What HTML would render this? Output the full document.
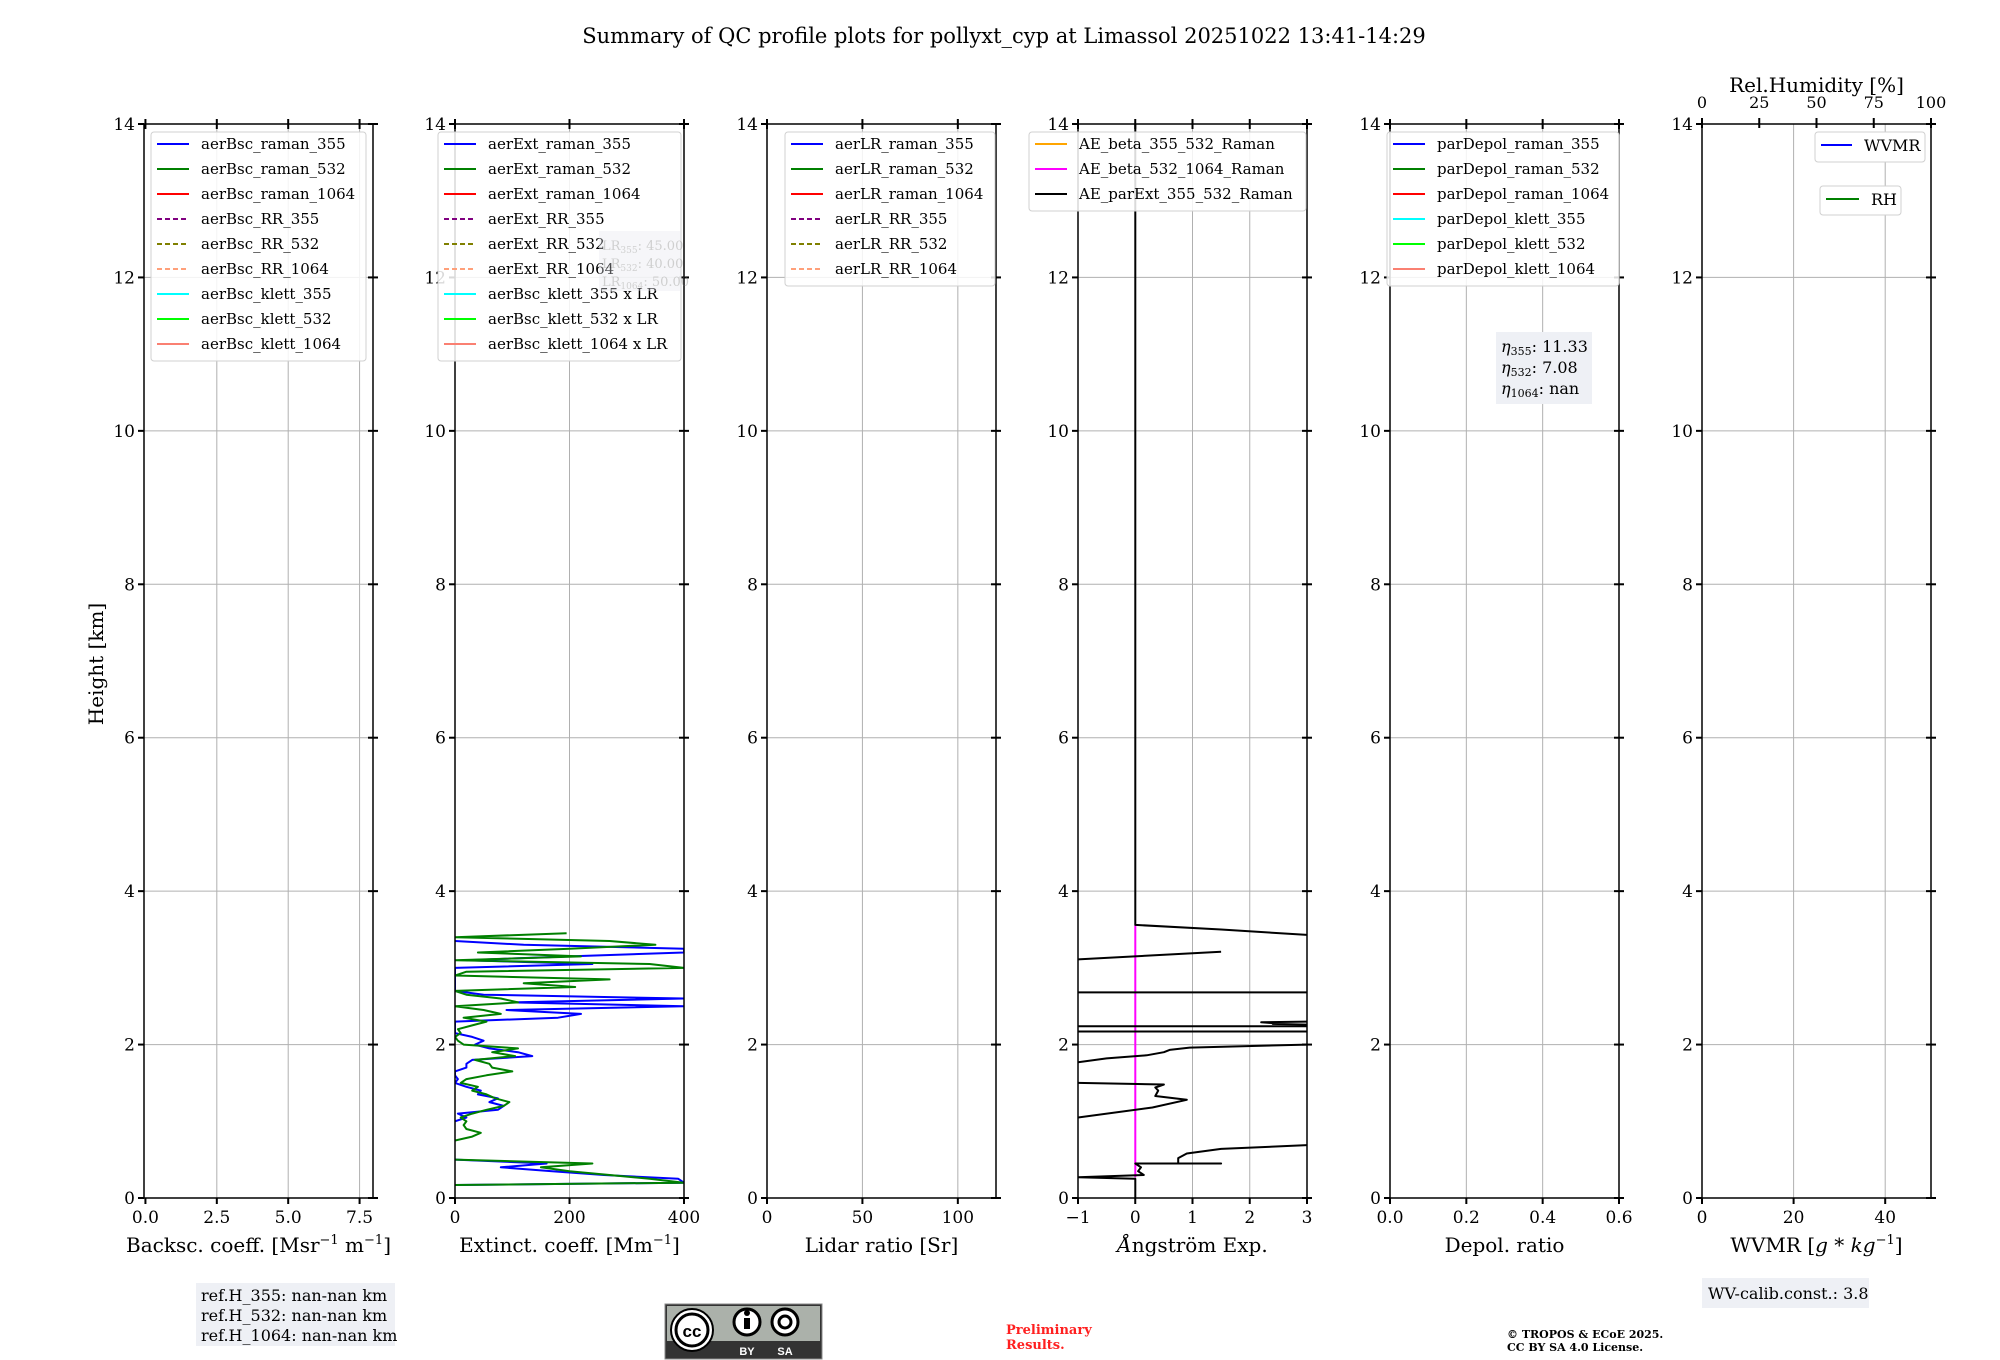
<!DOCTYPE html>
<html><head><meta charset="utf-8">
<style>
html,body{margin:0;padding:0;background:#fff;}
svg{display:block;font-family:"DejaVu Serif","Liberation Serif",serif;}
</style></head>
<body>
<svg id="fig" width="2000" height="1360" viewBox="0 0 2000 1360" xmlns="http://www.w3.org/2000/svg">
<text x="1004" y="43" font-size="21" text-anchor="middle">Summary of QC profile plots for pollyxt_cyp at Limassol 20251022 13:41-14:29</text>
<text transform="translate(103,664) rotate(-90)" font-size="20" text-anchor="middle">Height [km]</text>
<g id="panels"></g>
<g>
<rect x="196" y="1283" width="199" height="63" fill="#eef0f5"/>
<text x="201" y="1301" font-size="16">ref.H_355: nan-nan km</text>
<text x="201" y="1321" font-size="16">ref.H_532: nan-nan km</text>
<text x="201" y="1341" font-size="16">ref.H_1064: nan-nan km</text>
</g>
<g>
<rect x="665" y="1304" width="157" height="55" fill="#333" stroke="#888"/>
<rect x="667" y="1306" width="153" height="35" fill="#abb1aa"/>
<circle cx="692" cy="1330" r="21" fill="#fff" stroke="#000" stroke-width="2"/>
<circle cx="692" cy="1330" r="16" fill="#fff" stroke="#000" stroke-width="3"/>
<text x="692" y="1337" font-size="17" font-weight="bold" text-anchor="middle" font-family="Liberation Sans, sans-serif">cc</text>
<circle cx="747" cy="1322" r="13" fill="#fff" stroke="#000" stroke-width="3"/>
<rect x="744" y="1318" width="6" height="11" fill="#000"/><circle cx="747" cy="1313" r="3" fill="#000"/>
<circle cx="785" cy="1322" r="13" fill="#fff" stroke="#000" stroke-width="3"/>
<circle cx="785" cy="1322" r="6" fill="none" stroke="#000" stroke-width="3"/>
<text x="747" y="1355" font-size="11" fill="#fff" text-anchor="middle" font-family="Liberation Sans, sans-serif" font-weight="bold">BY</text>
<text x="785" y="1355" font-size="11" fill="#fff" text-anchor="middle" font-family="Liberation Sans, sans-serif" font-weight="bold">SA</text>
</g>
<text x="1006" y="1334" font-size="13" font-weight="bold" fill="#ff2020">Preliminary</text>
<text x="1006" y="1349" font-size="13" font-weight="bold" fill="#ff2020">Results.</text>
<text x="1507" y="1338" font-size="11" font-weight="bold">© TROPOS &amp; ECoE 2025.</text>
<text x="1507" y="1351" font-size="11" font-weight="bold">CC BY SA 4.0 License.</text>
<g>
<rect x="1702" y="1278" width="167" height="30" fill="#eef0f5"/>
<text x="1708" y="1299" font-size="16">WV-calib.const.: 3.8</text>
</g>
</svg>
<script>
// ---- data ----
const extHeights = [0.17,0.2,0.25,0.3,0.35,0.4,0.45,0.5,null,0.75,0.8,0.85,0.9,0.95,1.0,1.05,1.1,1.15,1.2,1.25,1.3,1.35,1.4,1.45,1.5,1.55,1.6,1.65,1.7,1.75,1.8,1.85,1.9,1.95,2.0,2.05,2.1,2.15,2.2,2.25,2.3,2.35,2.4,2.45,2.5,2.55,2.6,2.65,2.7,2.75,2.8,2.85,2.9,2.95,3.0,3.05,3.1,3.15,3.2,3.25,3.3,3.35,3.4,3.45];
const ext532 = [0,400,340,270,200,150,240,0,null,0,30,45,20,15,20,10,30,55,85,95,70,55,30,40,10,20,55,100,65,60,35,105,65,110,15,5,0,10,5,30,55,15,80,50,0,110,80,20,0,210,120,270,0,20,400,340,0,220,40,200,350,270,0,195];
const ext355 = [0,400,390,260,170,80,160,0,null,null,null,null,null,null,0,20,5,75,85,60,75,40,45,20,0,5,0,0,20,20,30,135,110,60,35,50,30,0,0,0,0,180,220,90,400,100,400,50,0,0,0,0,0,0,0,240,20,200,400,400,120,0,null,null];
const aeHeights = [14,3.56,3.50,3.43,null,3.11,3.21,null,2.68,2.68,null,2.30,2.29,2.28,2.27,2.26,null,2.24,2.24,null,2.17,2.17,null,2.00,1.96,1.93,1.90,1.86,1.82,1.77,null,1.50,1.48,1.44,1.40,1.33,1.28,1.18,1.05,null,0.69,0.64,0.58,0.52,0.45,0.45,0.45,0.40,0.35,0.30,0.27,0.25,0.0];
const aeParExt = [0,0,1.5,3,null,-1,1.5,null,-1,3,null,3,2.2,2.4,2.4,3,null,-1,3,null,-1,3,null,3,0.95,0.6,0.5,0.2,-0.5,-1,null,-1,0.5,0.35,0.4,0.35,0.9,0.3,-1,null,3,1.5,0.9,0.75,0.75,1.5,0,0.1,0.05,0.15,-1,0,0];
const aeBetaHeights = [3.56,0.27];
const aeBeta532 = [0,0];
const yTicks = [0,2,4,6,8,10,12,14];

const panels = [
 {name:'backscatter',left:144,xmin:-0.05,xmax:7.97,ticks:[0,2.5,5,7.5],labels:['0.0','2.5','5.0','7.5'],grid:[2.5,5,7.5],
  xlabel:'Backsc. coeff. [Msr<tspan dy="-8" font-size="13">−1</tspan><tspan dy="8"> m</tspan><tspan dy="-8" font-size="13">−1</tspan><tspan dy="8">]</tspan>',
  legend:{x:151,y:132,w:215,entries:[['aerBsc_raman_355','#0000ff',0],['aerBsc_raman_532','#008000',0],['aerBsc_raman_1064','#ff0000',0],['aerBsc_RR_355','#800080',1],['aerBsc_RR_532','#808000',1],['aerBsc_RR_1064','#ffa07a',1],['aerBsc_klett_355','#00ffff',0],['aerBsc_klett_532','#00ff00',0],['aerBsc_klett_1064','#fa8072',0]]}},
 {name:'extinction',left:455,xmin:0,xmax:400,ticks:[0,200,400],labels:['0','200','400'],grid:[200],
  xlabel:'Extinct. coeff. [Mm<tspan dy="-8" font-size="13">−1</tspan><tspan dy="8">]</tspan>',
  legend:{x:438,y:132,w:243,entries:[['aerExt_raman_355','#0000ff',0],['aerExt_raman_532','#008000',0],['aerExt_raman_1064','#ff0000',0],['aerExt_RR_355','#800080',1],['aerExt_RR_532','#808000',1],['aerExt_RR_1064','#ffa07a',1],['aerBsc_klett_355 x LR','#00ffff',0],['aerBsc_klett_532 x LR','#00ff00',0],['aerBsc_klett_1064 x LR','#fa8072',0]]}},
 {name:'lidar-ratio',left:767,xmin:0,xmax:120,ticks:[0,50,100],labels:['0','50','100'],grid:[50,100],xlabel:'Lidar ratio [Sr]',
  legend:{x:785,y:132,w:210,entries:[['aerLR_raman_355','#0000ff',0],['aerLR_raman_532','#008000',0],['aerLR_raman_1064','#ff0000',0],['aerLR_RR_355','#800080',1],['aerLR_RR_532','#808000',1],['aerLR_RR_1064','#ffa07a',1]]}},
 {name:'angstrom',left:1078,xmin:-1,xmax:3,ticks:[-1,0,1,2,3],labels:['−1','0','1','2','3'],grid:[0,1,2],xlabel:'<tspan font-style="italic">Å</tspan>ngström Exp.',
  legend:{x:1029,y:132,w:277,entries:[['AE_beta_355_532_Raman','#ffa500',0],['AE_beta_532_1064_Raman','#ff00ff',0],['AE_parExt_355_532_Raman','#000000',0]]}},
 {name:'depol',left:1390,xmin:0,xmax:0.6,ticks:[0,0.2,0.4,0.6],labels:['0.0','0.2','0.4','0.6'],grid:[0.2,0.4],xlabel:'Depol. ratio',
  legend:{x:1387,y:132,w:232,entries:[['parDepol_raman_355','#0000ff',0],['parDepol_raman_532','#008000',0],['parDepol_raman_1064','#ff0000',0],['parDepol_klett_355','#00ffff',0],['parDepol_klett_532','#00ff00',0],['parDepol_klett_1064','#fa8072',0]]}},
 {name:'wvmr',left:1702,xmin:0,xmax:50,ticks:[0,20,40],labels:['0','20','40'],grid:[20,40],xlabel:'WVMR [<tspan font-style="italic">g</tspan> * <tspan font-style="italic">kg</tspan><tspan dy="-8" font-size="13">−1</tspan><tspan dy="8">]</tspan>',legend:null}
];
const rhTicks = [0,25,50,75,100];

const W=229, TOP=124, BOT=1198, HMAX=14;
const NS='http://www.w3.org/2000/svg';
const root=document.getElementById('panels');
function mk(tag,attrs,parent){const e=document.createElementNS(NS,tag);for(const k in attrs)e.setAttribute(k,attrs[k]);(parent||root).appendChild(e);return e;}
function yS(h){return BOT-(h/HMAX)*(BOT-TOP);}

function drawSeries(g,p,hs,vs,color,width,name){
  const xS=v=>p.left+(v-p.xmin)/(p.xmax-p.xmin)*W;
  let pts=[];
  const flush=()=>{if(pts.length>1){const pl=mk('polyline',{points:pts.join(' '),fill:'none',stroke:color,'stroke-width':width,'stroke-linejoin':'round'},g);
    
    }pts=[];};
  for(let i=0;i<hs.length;i++){
    if(hs[i]===null||vs[i]===null){flush();continue;}
    pts.push(xS(vs[i]).toFixed(1)+','+yS(hs[i]).toFixed(1));
  }
  flush();
}

panels.forEach((p,pi)=>{
  const g=mk('g',{});
  
  
  const xS=v=>p.left+(v-p.xmin)/(p.xmax-p.xmin)*W;
  const clipId='clip'+pi;
  const cp=mk('clipPath',{id:clipId},g); mk('rect',{x:p.left,y:TOP,width:W,height:BOT-TOP},cp);
  p.grid.forEach(v=>{const l=mk('line',{x1:xS(v),x2:xS(v),y1:TOP,y2:BOT,stroke:'#b0b0b0','stroke-width':1},g);
    
    });
  yTicks.forEach(h=>{ if(h>0&&h<14){const l=mk('line',{x1:p.left,x2:p.left+W,y1:yS(h),y2:yS(h),stroke:'#b0b0b0','stroke-width':1},g);
    
    }});
  const dg=mk('g',{'clip-path':'url(#'+clipId+')'},g);
  
  
  if(p.name==='extinction'){
    drawSeries(dg,p,extHeights,ext355,'#0000ff',2,'ext-355-line');
    drawSeries(dg,p,extHeights,ext532,'#008000',2,'ext-532-line');
  }
  if(p.name==='angstrom'){
    drawSeries(dg,p,aeBetaHeights,aeBeta532,'#ff00ff',2,'ae-beta-532-1064-line');
    drawSeries(dg,p,aeHeights,aeParExt,'#000000',2,'ae-parext-line');
  }
  const sp=mk('rect',{x:p.left,y:TOP,width:W,height:BOT-TOP,fill:'none',stroke:'#000','stroke-width':1.5},g);
  
  
  yTicks.forEach(h=>{
    mk('line',{x1:p.left-6,x2:p.left,y1:yS(h),y2:yS(h),stroke:'#000','stroke-width':2},g);
    mk('line',{x1:p.left+W-5,x2:p.left+W+5,y1:yS(h),y2:yS(h),stroke:'#000','stroke-width':2},g);
    const t=mk('text',{x:p.left-9,y:yS(h)+6,'font-size':17,'text-anchor':'end'},g); t.textContent=h;
    
    
  });
  p.ticks.forEach((v,i)=>{
    mk('line',{x1:xS(v),x2:xS(v),y1:BOT,y2:BOT+6,stroke:'#000','stroke-width':2},g);
    if(p.name!=='wvmr') mk('line',{x1:xS(v),x2:xS(v),y1:TOP-5,y2:TOP+5,stroke:'#000','stroke-width':2},g);
    const t=mk('text',{x:xS(v),y:BOT+25,'font-size':17,'text-anchor':'middle'},g); t.textContent=p.labels[i];
    
    
  });
  const xl=mk('text',{x:p.left+W/2,y:1252,'font-size':20,'text-anchor':'middle'},g);
  xl.innerHTML=p.xlabel;
  
  
  if(p.legend){
    const L=p.legend, n=L.entries.length;
    const lg=mk('g',{},g);
    
    
    mk('rect',{x:L.x,y:L.y,width:L.w,height:n*25+4,rx:3,fill:'rgba(255,255,255,0.85)',stroke:'#d0d0d0','stroke-width':1},lg);
    L.entries.forEach((e,i)=>{
      const cy=L.y+12+i*25;
      mk('line',{x1:L.x+6,x2:L.x+38,y1:cy,y2:cy,stroke:e[1],'stroke-width':2,'stroke-dasharray':e[2]?'5,3':'none'},lg);
      const t=mk('text',{x:L.x+50,y:cy+5,'font-size':15},lg); t.textContent=e[0];
      
      
    });
  }
  if(p.name==='extinction'){
    const lb=mk('g',{opacity:0.35},g);
    
    
    mk('rect',{x:599,y:231,width:82,height:60,fill:'#e6e8ef'},lb);
    [['355','45.00'],['532','40.00'],['1064','50.00']].forEach((r,i)=>{
      const t=mk('text',{x:602,y:250+i*18,'font-size':13,fill:'#777'},lb);
      t.innerHTML='LR<tspan font-size="9" dy="3">'+r[0]+'</tspan><tspan dy="-3">: '+r[1]+'</tspan>';
    });
  }
  if(p.name==='depol'){
    const eb=mk('g',{},g);
    
    
    mk('rect',{x:1496,y:332,width:96,height:72,fill:'#eef0f5'},eb);
    [['355','11.33'],['532','7.08'],['1064','nan']].forEach((r,i)=>{
      const t=mk('text',{x:1501,y:352+i*21,'font-size':16},eb);
      t.innerHTML='<tspan font-style="italic">η</tspan><tspan font-size="11" dy="3">'+r[0]+'</tspan><tspan dy="-3">: '+r[1]+'</tspan>';
    });
  }
  if(p.name==='wvmr'){
    const rx=v=>p.left+v/100*W;
    rhTicks.forEach(v=>{
      mk('line',{x1:rx(v),x2:rx(v),y1:TOP-6,y2:TOP+4,stroke:'#000','stroke-width':2},g);
      const t=mk('text',{x:rx(v),y:TOP-16,'font-size':16,'text-anchor':'middle'},g); t.textContent=v;
      
      
    });
    const rt=mk('text',{x:p.left+W/2,y:92,'font-size':20,'text-anchor':'middle'},g); rt.textContent='Rel.Humidity [%]';
    
    
    const l1=mk('g',{},g);
    
    
    mk('rect',{x:1815,y:132,width:110,height:30,rx:3,fill:'#fff',stroke:'#d0d0d0'},l1);
    mk('line',{x1:1821,x2:1852,y1:145,y2:145,stroke:'#0000ff','stroke-width':2},l1);
    const t1=mk('text',{x:1864,y:151,'font-size':16},l1); t1.textContent='WVMR';
    const l2=mk('g',{},g);
    
    
    mk('rect',{x:1820,y:186,width:81,height:29,rx:3,fill:'#fff',stroke:'#d0d0d0'},l2);
    mk('line',{x1:1826,x2:1859,y1:199,y2:199,stroke:'#008000','stroke-width':2},l2);
    const t2=mk('text',{x:1871,y:205,'font-size':16},l2); t2.textContent='RH';
  }
});
</script>
</body></html>
